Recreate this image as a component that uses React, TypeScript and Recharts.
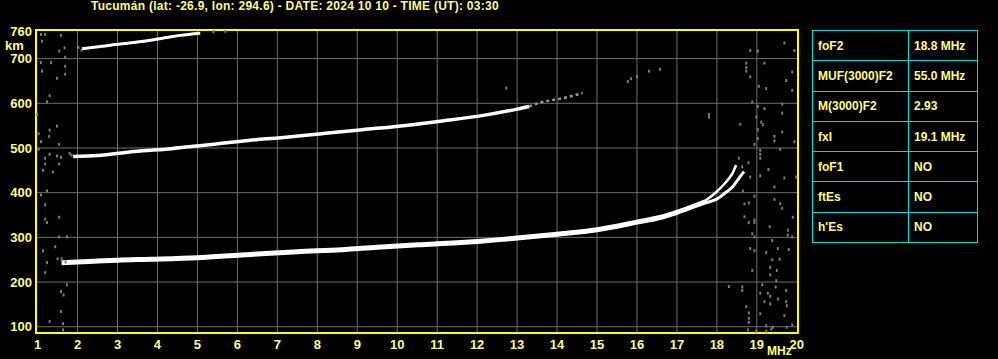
import React from 'react';
import {
    ComposedChart,
    Line,
    Scatter,
    XAxis,
    YAxis,
    CartesianGrid,
    ReferenceArea,
} from 'recharts';

// ionogram traces: f = MHz, h = virtual height km
const mainTrace = [
    { f: 1.6, h: 243 }, { f: 2.0, h: 245 }, { f: 2.5, h: 247 }, { f: 3.0, h: 249 },
    { f: 3.84, h: 251 }, { f: 5.0, h: 254.5 }, { f: 6.0, h: 260 }, { f: 6.71, h: 264 },
    { f: 7.5, h: 268 }, { f: 8.62, h: 272.5 }, { f: 9.5, h: 278 }, { f: 10.53, h: 283.5 },
    { f: 11.5, h: 288 }, { f: 12.0, h: 291 }, { f: 13.0, h: 298.5 }, { f: 14.0, h: 307 },
    { f: 15.0, h: 317 }, { f: 16.0, h: 334 }, { f: 16.6, h: 345 }, { f: 17.0, h: 356 },
    { f: 17.4, h: 369 }, { f: 17.7, h: 379 },
];

const oTrace = [
    { f: 17.6, h: 376 }, { f: 17.82, h: 389 }, { f: 17.98, h: 401 }, { f: 18.15, h: 416 },
    { f: 18.32, h: 434 }, { f: 18.4, h: 445 }, { f: 18.48, h: 462 },
];

const xTrace = [
    { f: 17.7, h: 377 }, { f: 17.9, h: 382 }, { f: 18.07, h: 390 }, { f: 18.23, h: 401 },
    { f: 18.4, h: 414 }, { f: 18.52, h: 428 }, { f: 18.6, h: 438 }, { f: 18.68, h: 447 },
];

const secondHop = [
    { f: 1.89, h: 481 }, { f: 2.5, h: 483 }, { f: 3.42, h: 492 }, { f: 4.34, h: 498.5 },
    { f: 5.05, h: 505 }, { f: 5.66, h: 511 }, { f: 6.28, h: 517 }, { f: 7.09, h: 523 },
    { f: 8.11, h: 532 }, { f: 9.13, h: 541 }, { f: 10.15, h: 550 }, { f: 11.17, h: 561 },
    { f: 12.19, h: 573.5 }, { f: 13.0, h: 587 }, { f: 13.3, h: 593 },
];

const secondHopFaint = [
    { f: 13.3, h: 593 }, { f: 13.52, h: 600 }, { f: 14.23, h: 613 }, { f: 14.64, h: 623 },
];

const thirdHop = [
    { f: 2.11, h: 722 }, { f: 2.57, h: 727 }, { f: 2.82, h: 730 }, { f: 3.4, h: 736 },
    { f: 3.82, h: 741 }, { f: 4.23, h: 747 }, { f: 4.57, h: 752 }, { f: 5.07, h: 757 },
];

const noise = [
    { f: 1.085, h: 754 }, { f: 1.19, h: 754 }, { f: 1.585, h: 752 }, { f: 1.11, h: 739 },
    { f: 1.54, h: 717 }, { f: 1.675, h: 724 }, { f: 1.69, h: 703 }, { f: 1.085, h: 691 },
    { f: 1.335, h: 691 }, { f: 1.69, h: 683 }, { f: 1.11, h: 672 }, { f: 1.69, h: 665 },
    { f: 1.485, h: 656 }, { f: 1.3, h: 617 }, { f: 1.235, h: 603 }, { f: 0.99, h: 575 },
    { f: 1.485, h: 549 }, { f: 1.3, h: 540 }, { f: 1.025, h: 532 }, { f: 1.29, h: 526 },
    { f: 1.085, h: 514 }, { f: 1.54, h: 508 }, { f: 1.025, h: 497 }, { f: 1.3, h: 486 },
    { f: 1.485, h: 482 }, { f: 1.585, h: 479 }, { f: 1.19, h: 477 }, { f: 1.19, h: 464 },
    { f: 1.54, h: 464 }, { f: 1.135, h: 450 }, { f: 1.385, h: 446 }, { f: 1.235, h: 404 },
    { f: 1.085, h: 395 }, { f: 1.19, h: 373 }, { f: 1.19, h: 341 }, { f: 1.235, h: 333 },
    { f: 1.54, h: 345 }, { f: 1.54, h: 301 }, { f: 1.735, h: 301 }, { f: 1.135, h: 270 },
    { f: 1.44, h: 279 }, { f: 1.235, h: 243.5 }, { f: 1.19, h: 221 }, { f: 1.735, h: 194 },
    { f: 1.585, h: 179 }, { f: 1.65, h: 171 }, { f: 1.585, h: 134 }, { f: 1.3, h: 112 },
    { f: 1.635, h: 107 }, { f: 1.635, h: 93 },
    { f: 1.5, h: 252 }, { f: 1.6, h: 252 }, { f: 1.7, h: 245 }, { f: 1.8, h: 488 },
    { f: 1.85, h: 484 }, { f: 2.02, h: 725 }, { f: 2.1, h: 719 }, { f: 5.4, h: 760 },
    { f: 5.7, h: 761 }, { f: 15.77, h: 649 }, { f: 15.85, h: 655 }, { f: 16.0, h: 660 },
    { f: 16.3, h: 672 }, { f: 16.58, h: 676 }, { f: 12.73, h: 634 }, { f: 17.8, h: 569 },
    { f: 17.8, h: 575 },
    { f: 18.835, h: 718 }, { f: 19.03, h: 717 }, { f: 19.94, h: 718 }, { f: 19.69, h: 735 },
    { f: 18.735, h: 690 }, { f: 18.735, h: 680 }, { f: 18.735, h: 672 }, { f: 19.19, h: 690 },
    { f: 18.835, h: 659 }, { f: 19.735, h: 651 }, { f: 19.885, h: 670 }, { f: 19.05, h: 638 },
    { f: 19.235, h: 633 }, { f: 19.885, h: 629 }, { f: 18.885, h: 603 }, { f: 19.025, h: 593 },
    { f: 19.19, h: 588 }, { f: 19.635, h: 598 }, { f: 18.985, h: 569 }, { f: 19.635, h: 578 },
    { f: 18.585, h: 553 }, { f: 19.11, h: 558 }, { f: 19.15, h: 552 }, { f: 19.025, h: 541 },
    { f: 19.635, h: 536 }, { f: 19.44, h: 526 }, { f: 19.025, h: 521 }, { f: 19.94, h: 514 },
    { f: 18.94, h: 508 }, { f: 19.44, h: 516 }, { f: 19.085, h: 495 }, { f: 19.585, h: 497 },
    { f: 19.085, h: 486 }, { f: 19.085, h: 477 }, { f: 18.55, h: 477 }, { f: 18.79, h: 467 },
    { f: 18.635, h: 458 }, { f: 18.835, h: 435 }, { f: 19.085, h: 438 }, { f: 19.29, h: 452 },
    { f: 19.69, h: 433 }, { f: 19.985, h: 435 }, { f: 19.44, h: 413 }, { f: 18.65, h: 404 },
    { f: 18.94, h: 392 }, { f: 19.44, h: 385 }, { f: 18.69, h: 375 }, { f: 18.8, h: 377 },
    { f: 19.585, h: 375 }, { f: 19.635, h: 365 }, { f: 19.9, h: 345 }, { f: 18.69, h: 346 },
    { f: 18.94, h: 339 }, { f: 18.8, h: 333 }, { f: 18.94, h: 333 }, { f: 18.885, h: 308 },
    { f: 19.32, h: 324 }, { f: 18.94, h: 301 }, { f: 19.775, h: 316 }, { f: 19.775, h: 305 },
    { f: 19.385, h: 293 }, { f: 19.885, h: 301 }, { f: 18.835, h: 275 }, { f: 18.94, h: 270 },
    { f: 19.235, h: 266 }, { f: 19.525, h: 275 }, { f: 19.8, h: 273 }, { f: 19.385, h: 250 },
    { f: 19.57, h: 251 }, { f: 19.335, h: 233 }, { f: 19.5, h: 226 }, { f: 18.885, h: 226 },
    { f: 19.335, h: 216 }, { f: 19.485, h: 203 }, { f: 18.3, h: 190 }, { f: 18.635, h: 189 },
    { f: 18.635, h: 181 }, { f: 19.135, h: 194 }, { f: 19.47, h: 189 }, { f: 19.275, h: 175 },
    { f: 19.085, h: 175 }, { f: 19.735, h: 181 }, { f: 19.335, h: 168 }, { f: 19.525, h: 162 },
    { f: 19.19, h: 156 }, { f: 19.335, h: 151 }, { f: 19.735, h: 156 }, { f: 19.75, h: 147 },
    { f: 18.735, h: 145 }, { f: 18.8, h: 131 }, { f: 19.085, h: 129 }, { f: 18.8, h: 119 },
    { f: 18.8, h: 110 }, { f: 19.69, h: 125 }, { f: 19.235, h: 102 }, { f: 19.4, h: 99 },
    { f: 19.75, h: 99 }, { f: 19.885, h: 104 }, { f: 18.775, h: 93 }, { f: 18.985, h: 90 },
    { f: 19.235, h: 90 }, { f: 19.36, h: 95 },
];

const xTicks = [1, 2, 3, 4, 5, 6, 7, 8, 9, 10, 11, 12, 13, 14, 15, 16, 17, 18, 19, 20];
const yTicks = [100, 200, 300, 400, 500, 600, 700, 760];
const xGrid = [2, 3, 4, 5, 6, 7, 8, 9, 10, 11, 12, 13, 14, 15, 16, 17, 18, 19];
const yGrid = [100, 200, 300, 400, 500, 600, 700];

const params = [
    ['foF2', '18.8 MHz'],
    ['MUF(3000)F2', '55.0 MHz'],
    ['M(3000)F2', '2.93'],
    ['fxI', '19.1 MHz'],
    ['foF1', 'NO'],
    ['ftEs', 'NO'],
    ["h'Es", 'NO'],
];

const TEXT = '#ffff80';
const FONT = '"Liberation Sans", Arial, sans-serif';
const tickStyle = { fill: TEXT, fontSize: 13, fontWeight: 'bold', fontFamily: FONT };

const Speck = (props: any) => {
    const { cx, cy } = props;
    return <rect x={cx - 1} y={cy - 1.5} width={2} height={3} fill="#7a7a7a" />;
};

export default function App() {
    return (
        <div
            style={{
                position: 'absolute',
                left: 0,
                top: 0,
                width: 998,
                height: 359,
                background: '#000',
                fontFamily: FONT,
                overflow: 'hidden',
            }}
        >
            <div
                style={{
                    position: 'absolute',
                    left: 91,
                    top: -1,
                    color: TEXT,
                    fontSize: 12,
                    fontWeight: 'bold',
                    letterSpacing: 0.27,
                    whiteSpace: 'nowrap',
                }}
            >
                Tucumán (lat: -26.9, lon: 294.6) - DATE: 2024 10 10 - TIME (UT): 03:30
            </div>
            <div
                style={{
                    position: 'absolute',
                    left: 5,
                    top: 40,
                    color: TEXT,
                    fontSize: 13,
                    lineHeight: '11px',
                    fontWeight: 'bold',
                }}
            >
                km
            </div>
            <div
                style={{
                    position: 'absolute',
                    left: 767,
                    top: 345,
                    color: TEXT,
                    fontSize: 12,
                    lineHeight: '12px',
                    fontWeight: 'bold',
                }}
            >
                MHz
            </div>

            <ComposedChart
                width={998}
                height={359}
                margin={{ top: 30, right: 200, bottom: 0, left: 0 }}
                style={{ position: 'absolute', left: 0, top: 0 }}
            >
                <CartesianGrid
                    stroke="#6e6e6e"
                    verticalValues={xGrid}
                    horizontalValues={yGrid}
                />
                <XAxis
                    type="number"
                    dataKey="f"
                    domain={[0.96, 20.03]}
                    ticks={xTicks}
                    allowDataOverflow
                    height={26}
                    axisLine={false}
                    tickLine={false}
                    tickSize={0}
                    tickMargin={7}
                    tick={tickStyle}
                    interval={0}
                />
                <YAxis
                    type="number"
                    dataKey="h"
                    domain={[86, 764]}
                    ticks={yTicks}
                    allowDataOverflow
                    width={36}
                    axisLine={false}
                    tickLine={false}
                    tickSize={0}
                    tickMargin={4}
                    tick={tickStyle}
                    interval={0}
                />
                <Scatter data={noise} shape={<Speck />} isAnimationActive={false} />
                <Line data={secondHopFaint} dataKey="h" type="monotone" stroke="#9a9a9a" strokeWidth={2.5} strokeDasharray="3 3" dot={false} isAnimationActive={false} />
                <Line data={mainTrace} dataKey="h" type="monotone" stroke="#fff" strokeWidth={5} dot={false} isAnimationActive={false} />
                <Line data={oTrace} dataKey="h" type="monotone" stroke="#fff" strokeWidth={2.5} dot={false} isAnimationActive={false} />
                <Line data={xTrace} dataKey="h" type="monotone" stroke="#fff" strokeWidth={3} dot={false} isAnimationActive={false} />
                <Line data={secondHop} dataKey="h" type="monotone" stroke="#fff" strokeWidth={3.5} dot={false} isAnimationActive={false} />
                <Line data={thirdHop} dataKey="h" type="monotone" stroke="#fff" strokeWidth={3} dot={false} isAnimationActive={false} />
                <ReferenceArea
                    x1={0.96}
                    x2={20.03}
                    y1={86}
                    y2={764}
                    stroke="#ffff00"
                    strokeWidth={2}
                    fill="none"
                    fillOpacity={0}
                />
            </ComposedChart>

            <table
                style={{
                    position: 'absolute',
                    left: 812,
                    top: 30,
                    width: 166,
                    borderCollapse: 'collapse',
                    color: TEXT,
                    fontSize: 12,
                    fontWeight: 'bold',
                }}
            >
                <tbody>
                    {params.map(([name, value]) => (
                        <tr key={name} style={{ height: 30.3 }}>
                            <td style={{ border: '1px solid #00dcdc', width: 90, padding: '0 0 0 5px' }}>{name}</td>
                            <td style={{ border: '1px solid #00dcdc', padding: '0 0 0 5px' }}>{value}</td>
                        </tr>
                    ))}
                </tbody>
            </table>
        </div>
    );
}
